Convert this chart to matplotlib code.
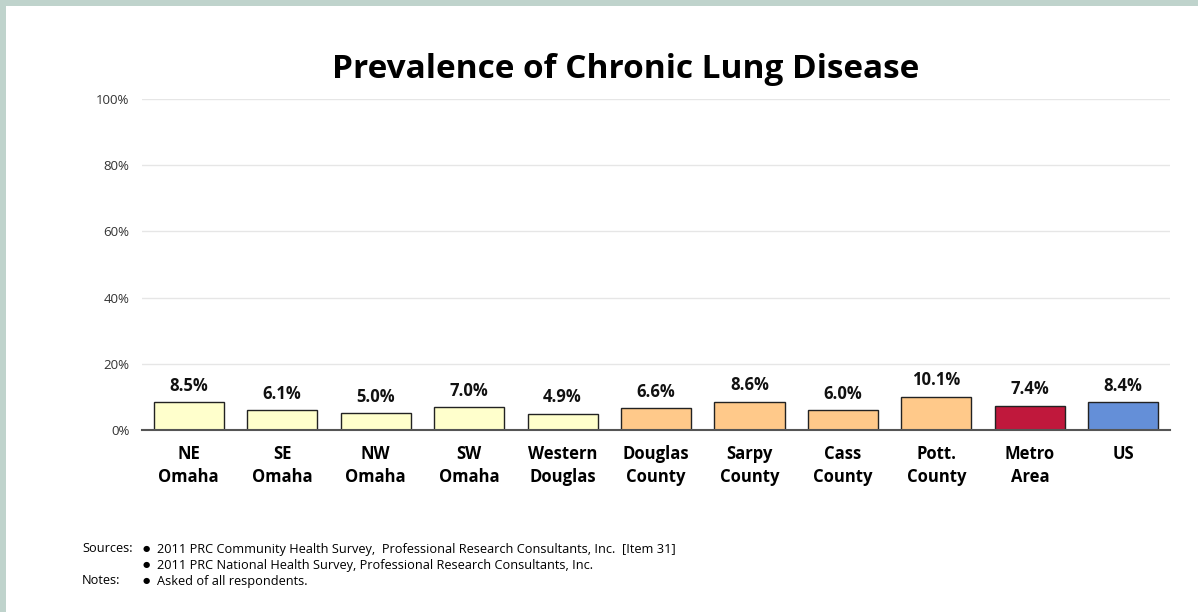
import matplotlib
matplotlib.use("Agg")
import matplotlib.pyplot as plt
from matplotlib.patches import Rectangle

categories = ["NE\nOmaha", "SE\nOmaha", "NW\nOmaha", "SW\nOmaha", "Western\nDouglas",
              "Douglas\nCounty", "Sarpy\nCounty", "Cass\nCounty", "Pott.\nCounty",
              "Metro\nArea", "US"]
values = [8.5, 6.1, 5.0, 7.0, 4.9, 6.6, 8.6, 6.0, 10.1, 7.4, 8.4]
colors = ["#FFFFCC"] * 5 + ["#FFC98A"] * 4 + ["#C0183C", "#648FD8"]
yticks = [0, 20, 40, 60, 80, 100]

plt.rcParams["font.family"] = ["Open Sans", "DejaVu Sans"]

fig = plt.figure(figsize=(11.98, 6.12), dpi=100)
fig.patch.set_facecolor("#BFD3CC")
# white page inside the grey-green frame (top and left edges only)
fig.patches.append(Rectangle((6 / 1198, 0), 1, 1 - 6 / 612, transform=fig.transFigure,
                             facecolor="white", edgecolor="none", zorder=-5))

ax = fig.add_axes([142 / 1198, 1 - 430 / 612, 1028 / 1198, 331 / 612])
ax.set_zorder(2)
ax.set_facecolor("white")
x = range(len(categories))
ax.bar(x, values, width=0.75, color=colors, edgecolor="#222222", linewidth=1.0, zorder=3)
for xi, v in zip(x, values):
    ax.text(xi, v + 2.2, f"{v:.1f}%", ha="center", va="bottom", fontsize=12,
            fontweight="bold", color="#111111")

ax.set_xlim(-0.5, len(categories) - 0.5)
ax.set_ylim(0, 100)
ax.set_yticks(yticks)
ax.set_yticklabels([f"{t}%" for t in yticks], fontsize=9.5, color="#333333")
ax.yaxis.grid(True, color="#E6E6E6", linewidth=1.0, zorder=0)
ax.set_axisbelow(True)
ax.set_xticks(list(x))
ax.set_xticklabels(categories, fontsize=12, fontweight="bold", linespacing=1.35)
ax.tick_params(axis="x", length=0, pad=11)
ax.tick_params(axis="y", length=0, pad=9)
for s in ["top", "right", "left"]:
    ax.spines[s].set_visible(False)
ax.spines["bottom"].set_color("#555555")
ax.spines["bottom"].set_linewidth(1.5)
ax.spines["bottom"].set_zorder(4)

fig.text(626 / 1198, 1 - 70 / 612, "Prevalence of Chronic Lung Disease", ha="center",
         va="center", fontsize=24, fontweight="bold")

fs = 9.2
fig.text(82 / 1198, 1 - 549 / 612, "Sources:", fontsize=fs, va="center")
fig.text(82 / 1198, 1 - 581 / 612, "Notes:", fontsize=fs, va="center")
notes = [(549, "2011 PRC Community Health Survey,  Professional Research Consultants, Inc.  [Item 31]"),
         (565, "2011 PRC National Health Survey, Professional Research Consultants, Inc."),
         (581, "Asked of all respondents.")]
for y, t in notes:
    fig.text(146 / 1198, 1 - y / 612, "\u25CF", fontsize=6, va="center", ha="center",
             family="DejaVu Sans")
    fig.text(157 / 1198, 1 - y / 612, t, fontsize=fs, va="center")

fig.savefig("out.png", dpi=100, facecolor=fig.get_facecolor())
